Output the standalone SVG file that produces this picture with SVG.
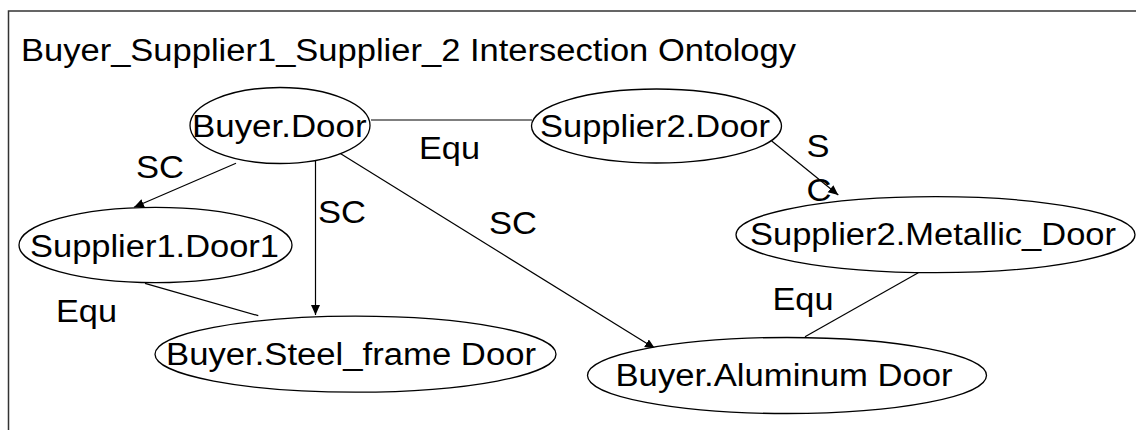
<svg xmlns="http://www.w3.org/2000/svg" width="1136" height="430" viewBox="0 0 1136 430">
  <style>
    .frame { fill: none; stroke: #333; stroke-width: 1.5; }
    .node ellipse { fill: #fff; stroke: #000; stroke-width: 1.3; }
    text { font-family: "Liberation Sans", Arial, sans-serif; font-size: 31px; fill: #000; }
    .edge { stroke: #000; stroke-width: 1.2; fill: none; }
    .arrow { marker-end: url(#head); }
  </style>
  <defs>
    <marker id="head" markerUnits="userSpaceOnUse" markerWidth="11" markerHeight="10" refX="10" refY="4.5" orient="auto">
      <path d="M0,0 L10,4.5 L0,9 Z" fill="#000"/>
    </marker>
  </defs>
  <rect width="1136" height="430" fill="#fff"/>

  <!-- outer frame (open to the right and bottom) -->
  <polyline class="frame" points="8.5,430 8.5,11 1136,11"/>
  <text x="21" y="61" textLength="775" lengthAdjust="spacingAndGlyphs">Buyer_Supplier1_Supplier_2 Intersection Ontology</text>

  <!-- connectors -->
  <g id="connectors">
    <line class="edge" x1="371" y1="120" x2="532" y2="120"/>
    <line class="edge arrow" x1="236" y1="163.3" x2="134" y2="207.3"/>
    <line class="edge arrow" x1="315.5" y1="160.5" x2="315.5" y2="315"/>
    <line class="edge arrow" x1="338.3" y1="152.3" x2="655" y2="348.5"/>
    <line class="edge arrow" x1="771.7" y1="141" x2="838.3" y2="195"/>
    <line class="edge" x1="145" y1="283.3" x2="258.3" y2="315.7"/>
    <line class="edge" x1="918.3" y1="272.7" x2="805" y2="336.7"/>

    <text x="419" y="159" textLength="61" lengthAdjust="spacingAndGlyphs">Equ</text>
    <text x="136" y="178" textLength="48" lengthAdjust="spacingAndGlyphs">SC</text>
    <text x="318" y="222.5" textLength="48" lengthAdjust="spacingAndGlyphs">SC</text>
    <text x="489" y="234" textLength="48" lengthAdjust="spacingAndGlyphs">SC</text>
    <text x="806.5" y="156.7" textLength="23" lengthAdjust="spacingAndGlyphs">S</text>
    <text x="806.5" y="201" textLength="25" lengthAdjust="spacingAndGlyphs">C</text>
    <text x="56" y="321.5" textLength="61" lengthAdjust="spacingAndGlyphs">Equ</text>
    <text x="772.5" y="310" textLength="61" lengthAdjust="spacingAndGlyphs">Equ</text>
  </g>

  <!-- nodes -->
  <g id="buyer-door" class="node">
    <ellipse cx="280" cy="125.5" rx="90" ry="38"/>
    <text x="192" y="137" textLength="174.5" lengthAdjust="spacingAndGlyphs">Buyer.Door</text>
  </g>
  <g id="supplier2-door" class="node">
    <ellipse cx="656.5" cy="126" rx="125" ry="37"/>
    <text x="540" y="137" textLength="230" lengthAdjust="spacingAndGlyphs">Supplier2.Door</text>
  </g>
  <g id="supplier1-door1" class="node">
    <ellipse cx="155.5" cy="245" rx="136.5" ry="37.7"/>
    <text x="30" y="256.5" textLength="249" lengthAdjust="spacingAndGlyphs">Supplier1.Door1</text>
  </g>
  <g id="supplier2-metallic-door" class="node">
    <ellipse cx="935.5" cy="234.7" rx="199.5" ry="38"/>
    <text x="750" y="245" textLength="366" lengthAdjust="spacingAndGlyphs">Supplier2.Metallic_Door</text>
  </g>
  <g id="buyer-steel-frame-door" class="node">
    <ellipse cx="355.5" cy="354.2" rx="200.5" ry="38"/>
    <text x="166" y="364.5" textLength="370" lengthAdjust="spacingAndGlyphs">Buyer.Steel_frame Door</text>
  </g>
  <g id="buyer-aluminum-door" class="node">
    <ellipse cx="787" cy="375.5" rx="199.5" ry="38"/>
    <text x="615.5" y="386" textLength="337" lengthAdjust="spacingAndGlyphs">Buyer.Aluminum Door</text>
  </g>
</svg>
